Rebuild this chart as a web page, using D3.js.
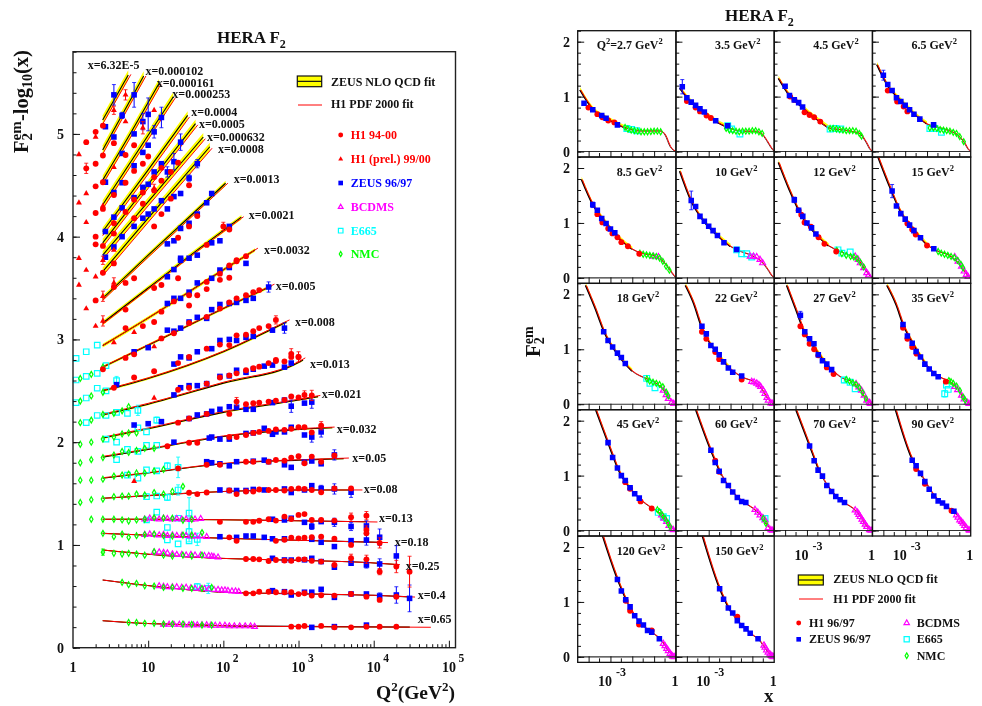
<!DOCTYPE html>
<html><head><meta charset="utf-8">
<script src="https://cdn.jsdelivr.net/npm/d3@7"></script>
<style>
html,body{margin:0;padding:0;background:#fff}
svg{display:block;filter:blur(.35px)}
text{font-family:"Liberation Serif","Times New Roman",serif;font-weight:bold;fill:#111}
</style></head><body><svg id="c" width="982" height="706"></svg>
<script>
// ---------- LEFT PLOT DATA: F2 - log10(x) versus Q2 ----------
const xBinLabels=["x=6.32E-5","x=0.000102","x=0.000161","x=0.000253","x=0.0004","x=0.0005","x=0.000632","x=0.0008","x=0.0013","x=0.0021","x=0.0032","x=0.005","x=0.008","x=0.013","x=0.021","x=0.032","x=0.05","x=0.08","x=0.13","x=0.18","x=0.25","x=0.4","x=0.65"];
// ZEUS fit nodes, one row per bin: [log10 Q2, plotted value]
const zeusFitLeft=[
[[.395,5.136],[.735,5.574]],
[[.395,4.844],[.94,5.564]],
[[.395,4.55],[.8,5.05],[1.144,5.49]],
[[.395,4.31],[.9,4.875],[1.334,5.36]],
[[.395,4.05],[1,4.65],[1.525,5.18]],
[[.395,3.94],[1,4.51],[1.63,5.10]],
[[.395,3.82],[1,4.34],[1.733,4.97]],
[[.395,3.66],[1,4.18],[1.82,4.875]],
[[.395,3.40],[1,3.82],[1.5,4.16],[2.03,4.52]],
[[.395,3.16],[1,3.5],[1.6,3.84],[2.24,4.19]],
[[.395,2.94],[1.2,3.3],[1.8,3.585],[2.42,3.87]],
[[.395,2.73],[1.157,3.0],[2,3.3],[2.64,3.52]],
[[.395,2.50],[1,2.62],[2,2.88],[2.84,3.17]],
[[.395,2.265],[1,2.37],[2,2.575],[3,2.775],[3.06,2.80]],
[[.395,2.04],[1,2.13],[2,2.29],[3,2.41],[3.26,2.443]],
[[.395,1.855],[1,1.93],[2,2.055],[3,2.125],[3.45,2.14]],
[[.395,1.65],[1,1.70],[2,1.79],[3,1.825],[3.6,1.84]],
[[.395,1.454],[1,1.48],[2,1.52],[3,1.535],[3.7,1.535]],
[[.395,1.25],[1,1.25],[2,1.245],[3,1.235],[3.9,1.225]],
[[.395,1.113],[1,1.095],[1.8,1.07],[3,1.045],[4.08,1.025]],
[[.395,.951],[1,.91],[1.5,.885],[2.3,.862],[3,.85],[4,.825],[4.3,.81]],
[[.395,.659],[1.05,.60],[2,.54],[3,.525],[4,.51],[4.48,.495]],
[[.395,.263],[1,.235],[1.5,.225],[2.3,.21],[4.48,.2]]];
// H1 fit: value difference from the ZEUS nodes, and where it ends
const h1FitGap=[-.04,-.04,-.04,-.04,-.04,-.04,-.04,-.04,-.02,-.012,0,.004,.006,.008,.008,.006,.004,0,0,0,0,0,0];
const h1FitEndLgQ=[.77,.97,1.17,1.36,1.55,1.66,1.76,1.85,2.06,2.27,2.46,2.68,2.88,3.09,3.29,3.48,3.67,3.85,4.05,4.19,4.35,4.55,4.76];
const zeusBandHalf=[.045,.045,.045,.045,.04,.04,.04,.04,.024,.022,.018,.014,.012,.01,.008,.006,.005,.004,.004,.004,.004,.003,.003];

const h1Left=[[2,5.02],[1.5,4.92],[2,4.71],[1.5,4.665,.05],[2,4.49],[2,4.23],[2,4.0],[2,3.925],[2,3.38],
[2.5,5.08],[2.5,4.79],[3.5,4.91],[5,4.795],[6.5,4.89],[2.5,4.53],[3.5,4.405],[5,4.525],[6.5,4.64],[8.5,4.71],[10,4.78],[12,4.58],[15,4.67],[25,4.72],
[2.5,4.27],[3.5,4.13],[5,4.24],[6.5,4.36],[8.5,4.43],[12,4.45],[15,4.545],[20,4.63],[35,4.5],
[2.5,3.91],[3.5,4.03],[6.5,4.18],[8.5,4.32],[12,4.10],[15,4.22],[20,4.37],[25,3.99],[35,4.10],[45,4.20],[60,3.92],[100,4.10,.04],[120,4.07],[150,3.77],[200,3.81],
[2.5,3.65],[3.5,3.74],[3.5,3.51],[5,3.55],[6.5,3.595],[12,3.5],[15,3.53],[25,3.595],[35,3.43],[60,3.56],[90,3.64],[120,3.72],[150,3.76],
[5,3.29],[8.5,3.13],[12,3.17],[5,3.11],[15,3.27],[22,3.37],[35,3.33],[45,3.43],[60,3.49],[90,3.58],[120,3.60],
[2.5,2.71],[5,2.82],[6.5,2.855],[15,3.01],[22,3.06],[35,3.16],[60,3.22],[90,3.30],[120,3.36],[150,3.40],[200,3.43],[250,3.46],[300,3.48],
[6.5,2.63],[12,2.69],[25,2.77],[35,2.83],[60,2.91],[90,2.95],[120,2.945],[150,3.04],[200,3.045],[250,3.08],[300,3.11],[400,3.13],[500,3.19,.04],
[3.5,2.53],[25,2.51],[35,2.53],[60,2.57],[90,2.63],[120,2.65],[150,2.67],[200,2.70],[250,2.72],[300,2.735],[400,2.77],[500,2.80],[800,2.83],[1000,2.83],[500,2.79],[650,2.785],[800,2.86,.05],[1000,2.83,.05],
[25,2.19],[35,2.23],[60,2.275],[120,2.275],[150,2.395,.04],[200,2.37],[250,2.38],[300,2.385],[400,2.395],[500,2.405],[650,2.41],[800,2.445],[1000,2.435],[1200,2.46,.04],[1500,2.455,.05],
[18,1.96],[35,1.995],[45,1.995],[120,2.05],[150,2.05],[200,2.07],[250,2.09],[300,2.10],[400,2.11],[500,2.125],[650,2.12],[800,2.13],[1000,2.145],[1200,2.145],[1500,2.095],[2000,2.16,.04],
[25,1.745],[60,1.78],[90,1.78],[200,1.81],[250,1.81],[400,1.81],[500,1.827],[650,1.82],[800,1.85],[1000,1.863],[1200,1.795],[1500,1.86],[2000,1.81],[3000,1.87],
[35,1.508],[45,1.495],[60,1.51],[120,1.53],[150,1.495],[200,1.52],[250,1.52],[300,1.54],[400,1.535],[500,1.535],[650,1.53],[800,1.545],[1000,1.55],[1200,1.545],[1500,1.535],[2000,1.513],[3000,1.55],[5000,1.55],
[90,1.225],[200,1.225],[250,1.225],[300,1.235],[400,1.25],[500,1.237],[650,1.276],[800,1.253],[1000,1.292],[1200,1.30],[1500,1.243],[2000,1.243],[3000,1.237],[5000,1.27,.04],[8000,1.285,.04],
[120,1.074],[150,1.04],[500,1.04],[650,1.05],[800,1.07],[1000,1.064],[1200,1.07],[1500,1.075],[2000,1.08],[3000,1.06],[5000,1.0],[8000,1.146,.04],[8000,1.113],[12000,1.02,.05],
[200,.863],[250,.863],[300,.86],[400,.844],[500,.853],[650,.848],[800,.845],[1000,.86],[1200,.86],[1500,.845],[2000,.838],[3000,.805],[5000,.87,.04],[8000,.86,.04],[12000,.74,.03],[20000,.79,.06],[30000,.74,.15],
[200,.529],[250,.529],[300,.545],[400,.545],[500,.54],[650,.54],[800,.54],[1000,.522],[1200,.53],[1500,.507],[2000,.51],[3000,.507],[5000,.523],[8000,.497],[12000,.465],[20000,.497],
[800,.205],[1000,.205],[1200,.212],[2000,.212],[3000,.198],[5000,.198],[8000,.205],[12000,.205],[20000,.205]];
const h1PrelLeft=[[1.2,4.80],[1.2,4.33],[1.2,3.79],[1.2,3.53],[1.5,4.42],[1.5,4.14],[1.5,3.675],[1.5,3.30],[2,4.97],[2,3.61],[2,3.13],
[2.5,4.30],[3.5,4.675],[3.5,5.23,.04],[5,5.12],[5,5.38,.05],[8.5,5.06,.06],[12,5.23],[12,4.47,.04],[3.5,3.87],[2.5,3.77,.04],[2.5,3.42,.05],[3.5,3.55,.05],[2.5,3.18,.05],[3.5,2.97],[6.5,3.07],[12,2.93],[12,2.43],[6.5,1.62]];
const zeusLeft=[[2.7,5.07],[3.5,5.38,.1],[4.5,5.18,.03],[6.5,5.38,.12],[3.5,4.97],[4.5,4.81],[6.5,5.0],[8.5,5.12,.08],[10,5.19,.16],[12,5.02,.06],[15,5.16,.1],
[2.7,4.53],[3.5,4.43],[4.5,4.525],[6.5,4.69],[8.5,4.82],[10,4.89],[12,4.63],[15,4.71],[18,4.63,.05],[22,4.73,.08],[27,4.92,.08],[35,4.57,.03],[45,4.71,.04],
[2.7,4.05],[3.5,4.19],[4.5,4.28],[6.5,4.38],[8.5,4.48],[10,4.51],[12,4.27],[15,4.35],[18,4.27],[22,4.39],[27,4.42],[35,4.13],[45,4.22],[60,4.33],[70,4.42],
[2.7,3.80],[3.5,3.90],[4.5,4.0],[6.5,4.10],[8.5,4.18],[10,4.22],[18,3.93],[22,3.96],[27,4.08],[27,3.79],[35,3.79],[45,3.82],[70,3.94],[90,3.96],[120,4.10],
[18,3.61],[22,3.68],[27,3.77],[35,3.46],[45,3.55],[70,3.595],[90,3.675],[120,3.70],[200,3.74],
[18,3.35],[22,3.40],[27,3.40],[70,3.29],[90,3.34],[120,3.35],[150,3.36],[200,3.38],[250,3.40],[400,3.51,.05],[35,3.17],[45,3.215],[60,3.205],
[6.5,2.88],[10,2.92],[18,3.09],[22,3.08],[27,3.11],[22,2.76],[27,2.83],[35,2.82],[45,2.88],[70,2.91],[90,2.99],[120,3.0],[150,2.99],[200,3.02],[250,3.03],[450,3.09],[650,3.11,.05],
[3.8,2.56],[22,2.46],[27,2.53],[35,2.55],[45,2.55],[60,2.57],[90,2.64],[120,2.645],[150,2.70],[200,2.68],[250,2.71],[350,2.74],[450,2.75],[650,2.73],[800,2.77],
[6.5,2.167],[10,2.18],[15,2.2],[35,2.23],[45,2.265],[60,2.275],[70,2.30],[90,2.32],[120,2.345],[150,2.34],[200,2.32],[250,2.32],[450,2.385],[650,2.41],[800,2.35,.06],[1200,2.38],[1500,2.39,.06],
[22,2.0],[65,2.04],[70,2.05],[90,2.03],[120,2.03],[200,2.085],[250,2.09],[350,2.135],[500,2.10],[450,2.077],[650,2.10],[800,2.145],[1200,2.07],[1500,2.05,.05],[2000,2.10,.05],
[60,1.81],[70,1.80],[90,1.79],[120,1.77],[150,1.81],[250,1.815],[350,1.825],[400,1.81],[650,1.78],[800,1.755],[1200,1.805],[1500,1.817],[2000,1.79],[3000,1.876,.05],
[90,1.535],[120,1.53],[150,1.53],[200,1.53],[250,1.54],[350,1.535],[650,1.545],[800,1.51],[1200,1.535],[1500,1.577],[2000,1.55,.03],[3000,1.545,.05],[5000,1.513,.05],
[450,1.25],[650,1.243],[800,1.26],[1200,1.22],[1500,1.18,.03],[2000,1.227],[3000,1.22,.04],[5000,1.18,.04],[8000,1.185,.05],
[90,1.08],[150,1.074],[200,1.087],[250,1.087],[350,1.074],[450,1.06],[650,1.06],[1500,1.055],[2000,1.026],[3000,.984],[5000,1.042],[8000,1.048,.05],[12000,1.075,.08],
[450,.87],[650,.854],[800,.853],[1200,.855],[1500,.87],[2000,.838],[3000,.783],[5000,.822],[8000,.805,.03],[12000,.815,.05],[20000,.893,.1],
[450,.555],[650,.545],[800,.513],[1200,.54],[1500,.54],[2000,.568],[3000,.49],[5000,.523],[8000,.523],[12000,.503,.03],[20000,.513,.08],[30000,.48,.13],
[1500,.198],[3000,.205],[8000,.22]];
const e665Left=[[1.1,2.816],[1.5,2.88],[2.1,2.945],[1.1,2.605],[1.5,2.64],[2.1,2.67],[1.1,2.385],[1.5,2.43],[2.1,2.525],[2.75,2.50],[3.8,2.6,.04],[2.75,2.745],[1.5,2.19],[2.1,2.26],[2.75,2.26],[3.8,2.29],[5.3,2.28],[7.3,2.31,.05],[7.3,2.14],[9.5,2.10],[13,2.215,.03],[2.75,2.03],[3.8,2.0],[9.5,1.97],[13,1.97],[3.8,1.83],[5.3,1.93],[7.3,1.91],[7.3,1.65],[5.3,1.68],[9.5,1.73],[13,1.72],[18,1.77,.03],[25,1.755,.1],
[9.5,1.47],[13,1.476],[18,1.463,.03],[25,1.535,.05],[13,1.32],[9.5,1.243],[25,1.26],[35,1.31,.15],[18,1.17],[18,1.05],[25,1.01],[35,1.04],[35,1.13,.1],[45,1.054,.06],[45,.594,.03],[63,.577,.05]];
const nmcLeft=[[1.25,2.62],[1.75,2.66],[1.25,2.40],[1.75,2.45],[1.25,2.19],[1.75,2.215],[2.5,2.485],[2.5,2.73],[1.25,1.98],[1.75,2.0],[2.5,2.27],[3.5,2.28],[4.5,2.305],[5.5,2.345],[1.25,1.80],[1.75,1.83],[2.5,2.03],[3.5,2.05],[4.5,2.08],[5.5,2.09],[7,2.09],[2.5,1.85],[3.5,1.875],[4.5,1.91],[5.5,1.9],[7,1.92],[9,1.94],[12,1.94],[1.25,1.63],[1.75,1.63],[2.5,1.64],[3.5,1.67],[4.5,1.68],[5.5,1.69],[7,1.70],[9,1.70],[12,1.72],[16,1.735],
[1.25,1.414],[1.75,1.44],[2.5,1.447],[3.5,1.47],[4.5,1.476],[5.5,1.476],[7,1.495],[9,1.486],[12,1.51],[16,1.495],[21,1.52],[29,1.57],
[1.75,1.25],[2.5,1.25],[3.5,1.25],[4.5,1.243],[5.5,1.233],[7,1.243],[9,1.25],[12,1.265],[16,1.26],[21,1.26],[29,1.24],[38,1.25],
[2.5,1.113],[3.5,1.08],[4.5,1.106],[5.5,1.074],[7,1.09],[9,1.10],[12,1.106],[16,1.09],[21,1.087],[29,1.096],[38,1.096],[52,1.12],
[2.5,.93,.03],[3.5,.918],[4.5,.911],[5.5,.918],[7,.911],[9,.90],[12,.934],[16,.90],[21,.892],[29,.90],[38,.892],[52,.90],
[4.5,.636],[5.5,.613],[7,.626],[9,.603],[12,.60],[16,.587],[21,.587],[29,.577],[38,.577],[52,.577],[70,.587],
[5.5,.246],[7,.246],[9,.237],[12,.237],[16,.23],[21,.23],[29,.23],[38,.227],[52,.22],[70,.22]];
const bcdmsLeft=[[9,1.25],[10.5,1.26],[12,1.255],[14,1.25],[16,1.26],[18,1.255],[21,1.25],[24,1.255],[28,1.25],[32,1.25],[37,1.245],[42,1.25],[50,1.255],
[9,1.10],[10.5,1.105],[12,1.10],[14,1.095],[16,1.10],[18,1.09],[21,1.095],[24,1.09],[28,1.09],[32,1.09],[37,1.085],[42,1.085],[50,1.085],[60,1.08],
[12,.93],[14,.93],[16,.925],[18,.92],[21,.91],[24,.905],[28,.905],[32,.90],[37,.905],[42,.90],[50,.90],[56,.895],[64,.895],[70,.89],[75,.885],[85,.88],
[14,.60],[16,.595],[18,.59],[21,.59],[24,.59],[28,.585],[32,.585],[37,.58],[42,.575],[50,.575],[56,.575],[64,.57],[75,.565],[85,.565],[95,.56],[105,.56],[115,.555],[130,.55],[145,.55],[160,.545],
[16,.225],[19,.225],[22,.225],[26,.225],[30,.22],[35,.22],[40,.22],[45,.22],[52,.22],[60,.22],[68,.215],[78,.215],[90,.215],[105,.215],[120,.21],[140,.21],[165,.21],[195,.21],[230,.21],[260,.205]];

// ---------- RIGHT PANELS DATA: F2 versus x, rows are [log10 x, F2, error] ----------
const panelQ2=["2.7","3.5","4.5","6.5","8.5","10","12","15","18","22","27","35","45","60","70","90","120","150"];
const panelFit=[
[[-4.39,1.12],[-3.78,.76],[-3.17,.6],[-2.56,.47],[-2.25,.42],[-1.65,.375],[-.73,.375],[-.5,.30],[-.27,.09],[0,0]],
[[-4.32,1.15],[-3.8,.90],[-3.2,.70],[-2.6,.53],[-2,.42],[-1.5,.37],[-.9,.37],[-.6,.33],[-.35,.2],[-.15,.07],[0,0]],
[[-4.3,1.33],[-3.8,1.02],[-3.2,.80],[-2.6,.60],[-2,.43],[-1.5,.40],[-1,.37],[-.6,.33],[-.3,.17],[-.1,.03],[0,0]],
[[-4.29,1.58],[-3.8,1.2],[-3.2,.93],[-2.6,.69],[-2,.50],[-1.5,.44],[-1,.38],[-.6,.30],[-.3,.16],[-.1,.03],[0,0]],
[[-4.32,1.79],[-3.8,1.33],[-3.2,1.0],[-2.6,.72],[-2,.52],[-1.6,.45],[-1,.40],[-.6,.30],[-.3,.15],[-.1,.04],[0,0]],
[[-4.32,1.94],[-3.8,1.40],[-3.2,1.02],[-2.6,.77],[-2,.57],[-1.6,.49],[-1,.40],[-.6,.30],[-.3,.15],[-.1,.03],[0,0]],
[[-4.3,2.1],[-3.8,1.6],[-3.2,1.1],[-2.6,.8],[-2,.58],[-1.6,.50],[-1,.40],[-.6,.29],[-.3,.13],[-.1,.03],[0,0]],
[[-4.24,2.2],[-3.8,1.75],[-3.2,1.2],[-2.6,.87],[-2,.6],[-1.6,.5],[-1,.41],[-.6,.28],[-.3,.12],[-.1,.03],[0,0]],
[[-4.13,2.16],[-3.7,1.75],[-3.3,1.33],[-2.6,.87],[-2,.6],[-1.4,.47],[-1,.40],[-.6,.27],[-.3,.11],[-.1,.02],[0,0]],
[[-4.06,2.16],[-3.7,1.85],[-3.3,1.38],[-2.6,.92],[-2,.64],[-1.4,.48],[-1,.42],[-.6,.29],[-.3,.1],[-.1,.02],[0,0]],
[[-3.92,2.16],[-3.5,1.72],[-3.1,1.3],[-2.6,1.0],[-2,.68],[-1.4,.48],[-1,.42],[-.6,.28],[-.3,.09],[-.1,.02],[0,0]],
[[-3.83,2.16],[-3.4,1.8],[-3.1,1.46],[-2.6,1.08],[-2,.7],[-1.4,.49],[-1,.42],[-.6,.28],[-.3,.09],[-.1,.02],[0,0]],
[[-3.66,2.19],[-3.11,1.6],[-2.6,1.08],[-2,.72],[-1.5,.52],[-1,.38],[-.6,.26],[-.3,.08],[-.1,.02],[0,0]],
[[-3.58,2.19],[-2.9,1.46],[-2.4,1.0],[-1.9,.7],[-1.3,.49],[-.9,.38],[-.6,.26],[-.3,.08],[-.1,.02],[0,0]],
[[-3.49,2.19],[-2.88,1.55],[-2.4,1.05],[-1.9,.73],[-1.3,.51],[-.8,.37],[-.6,.28],[-.3,.09],[-.1,.02],[0,0]],
[[-3.43,2.19],[-2.68,1.3],[-2.2,.97],[-1.7,.65],[-1.2,.46],[-.8,.35],[-.55,.25],[-.3,.09],[-.1,.02],[0,0]],
[[-3.35,2.2],[-2.68,1.42],[-2.2,.97],[-1.7,.64],[-1.2,.47],[-.75,.33],[-.55,.23],[-.3,.08],[-.1,.02],[0,0]],
[[-3.28,2.2],[-2.5,1.25],[-2,.83],[-1.5,.58],[-1,.40],[-.7,.31],[-.5,.2],[-.3,.09],[-.1,.02],[0,0]]];
const panelZeus=[
[[-4.21,.88],[-3.81,.76],[-3.40,.655],[-3.20,.605],[-2.68,.485]],
[[-4.21,1.18,.13],[-4.0,.98],[-3.8,.90],[-3.6,.84],[-3.4,.78],[-3.2,.72],[-2.68,.56],[-2.13,.47]],
[[-4.0,1.19],[-3.8,1.02],[-3.58,.94],[-3.38,.89],[-3.2,.81]],
[[-4,1.39,.09],[-3.8,1.22],[-3.6,1.11],[-3.4,.98],[-3.2,.91],[-3,.84],[-2.8,.76],[-2.6,.68],[-2.33,.59],[-1.7,.485]],
[[-3.81,1.33,.05],[-3.6,1.23],[-3.4,1.08],[-3.2,.99],[-3,.89],[-2.8,.82]],
[[-3.8,1.41,.17],[-3.6,1.30],[-3.4,1.12],[-3.2,1.03],[-3,.94],[-2.8,.86],[-2.6,.77],[-2.3,.64],[-1.72,.515]],
[[-3.58,1.42,.05],[-3.38,1.23],[-3.19,1.12],[-3,1],[-2.79,.91],[-2.59,.8]],
[[-3.6,1.58,.12],[-3.4,1.31],[-3.2,1.17],[-3,1.07],[-2.8,.96],[-2.6,.86],[-2.3,.73],[-1.69,.53]],
[[-3.31,1.32],[-3.11,1.16],[-2.9,1.04],[-2.68,.93],[-2.5,.85],[-2.32,.74]],
[[-3.31,1.42],[-3.11,1.28],[-2.9,1.07],[-2.7,1.0],[-2.52,.9],[-2.32,.77],[-2.1,.66],[-1.9,.58],[-1.49,.515]],
[[-3.3,1.62,.07],[-3.1,1.32],[-2.88,1.19],[-2.68,1.1],[-2.48,.9],[-2.29,.79],[-2.09,.73],[-1.87,.63]],
[[-3.1,1.45],[-2.9,1.24],[-2.68,1.11],[-2.5,.96],[-2.3,.86],[-2.1,.73],[-1.9,.64],[-1.69,.56],[-1.49,.5]],
[[-3.11,1.6],[-2.9,1.33],[-2.68,1.14],[-2.5,1],[-2.32,.91],[-2.1,.78],[-1.89,.67],[-1.68,.59]],
[[-2.9,1.46],[-2.7,1.24],[-2.52,1.08],[-2.32,.91],[-2.1,.82],[-1.9,.7],[-1.69,.6],[-1.49,.53],[-1.3,.51]],
[[-2.88,1.54],[-2.67,1.27],[-2.49,1.1],[-2.29,.99],[-2.09,.82],[-1.87,.71],[-1.68,.62],[-1.48,.56],[-1.28,.51]],
[[-2.68,1.28],[-2.5,1.18],[-2.3,1.04],[-2.1,.89],[-1.9,.75],[-1.69,.63],[-1.49,.54],[-1.29,.5],[-1.11,.44],[-.77,.35]],
[[-2.68,1.41],[-2.5,1.2],[-2.3,1.04],[-2.1,.91],[-1.89,.75],[-1.69,.65],[-1.49,.58],[-1.3,.48],[-1.11,.45],[-.76,.33]],
[[-2.5,1.24],[-2.32,1.05],[-2.1,.89],[-1.9,.8],[-1.69,.66],[-1.49,.57],[-1.29,.51],[-1.1,.43],[-.74,.33]]];
const panelH1=[
[[-4.01,.80],[-3.60,.68],[-3.37,.625],[-3.10,.565],[-2.82,.53]],
[[-4.0,.92],[-3.6,.80],[-3.4,.73],[-3.1,.655],[-2.9,.61]],
[[-3.77,1.0],[-3.57,.94],[-3.11,.715],[-2.88,.665],[-2.67,.625],[-2.39,.545]],
[[-3.8,1.11],[-3.37,.91],[-3.07,.82],[-2.9,.73]],
[[-3.6,1.16],[-3.37,1.01],[-3.1,.90],[-2.91,.81],[-2.68,.74],[-2.5,.65],[-2.2,.575],[-1.68,.44]],
[],
[[-3.38,1.23],[-3.26,1.15],[-3.11,1.01],[-2.82,.93],[-2.47,.74],[-2.2,.62],[-1.66,.48]],
[[-2.9,.99],[-2.68,.88],[-2.52,.79],[-2,.59]],
[],
[[-3.31,1.32],[-3.11,1.19],[-2.7,.95],[-2.52,.82],[-1.49,.45]],
[[-3.3,1.42],[-3.1,1.27],[-2.88,1.1],[-2.67,1.0],[-2.48,.89],[-2.09,.67],[-1.78,.55]],
[[-3.1,1.39],[-2.9,1.19],[-2.68,1.04],[-2.48,.92],[-1.14,.41]],
[[-2.32,.88],[-2.1,.76],[-1.62,.53],[-1.11,.40]],
[[-2.7,1.27],[-2.52,1.07]],
[],
[[-2.5,1.12],[-2.1,.85],[-.88,.36]],
[[-2.3,1.02],[-2.1,.84],[-1.69,.59],[-1.11,.48]],
[[-1.69,.73]]];
const panelE665=[
[[-2.25,.42],[-2.03,.40],[-1.8,.38]],
[[-2.13,.47],[-1.95,.41],[-1.57,.32]],
[[-1.94,.41],[-1.7,.42],[-1.45,.41]],
[[-1.87,.42],[-1.64,.42],[-1.34,.35]],
[],
[[-1.72,.51],[-1.49,.44],[-1.26,.44],[-1.03,.38]],
[[-1.58,.51],[-1.4,.45],[-1.02,.47]],
[],
[[-1.34,.47],[-1.19,.38],[-.96,.30]],
[],
[[-1.29,.44,.05],[-1.02,.40],[-.79,.28]],
[[-1.19,.19,.06],[-1.03,.27],[-1.11,.35]],
[[-.81,.33],[-.58,.25],[-.43,.22]],
[[-.42,.22]],
[],[],[],[]];
const panelNmc=[
[[-2.33,.44],[-2.2,.41],[-2.05,.39],[-1.9,.38],[-1.75,.37],[-1.6,.36],[-1.45,.36],[-1.3,.36],[-1.15,.365],[-1,.37],[-.85,.37],[-.7,.36]],
[[-2.2,.42],[-2.05,.39],[-1.9,.38],[-1.75,.37],[-1.6,.36],[-1.45,.37],[-1.3,.37],[-1.15,.37],[-1,.38],[-.85,.38],[-.7,.36],[-.55,.33]],
[[-1.94,.42],[-1.8,.42],[-1.65,.41],[-1.5,.40],[-1.35,.39],[-1.2,.38],[-1.05,.38],[-.9,.38],[-.75,.37],[-.6,.33],[-.5,.28]],
[[-1.87,.43],[-1.7,.43],[-1.55,.42],[-1.4,.40],[-1.25,.39],[-1.1,.38],[-.95,.37],[-.8,.35],[-.65,.33],[-.5,.27],[-.32,.18]],
[[-1.65,.45],[-1.5,.43],[-1.35,.42],[-1.2,.41],[-1.05,.40],[-.9,.39],[-.75,.36],[-.6,.30],[-.45,.21],[-.3,.14]],
[],
[[-1.63,.5],[-1.4,.44],[-1.2,.41],[-1,.39],[-.85,.38],[-.7,.35],[-.55,.28],[-.4,.2]],
[[-1.49,.48],[-1.35,.45],[-1.2,.43],[-1.05,.41],[-.9,.39],[-.75,.37],[-.6,.32],[-.45,.25],[-.35,.18]],
[[-1.33,.46],[-1.2,.42],[-1.05,.40],[-.9,.38],[-.75,.36],[-.6,.32],[-.45,.22],[-.35,.15]],
[],
[[-1.2,.45],[-1.05,.42],[-.9,.39],[-.75,.36],[-.6,.3],[-.45,.21],[-.3,.1]],
[[-1,.43],[-.9,.41],[-.8,.38],[-.65,.33],[-.5,.25],[-.35,.13],[-.25,.07]],
[[-.85,.38],[-.75,.34],[-.62,.28],[-.5,.22],[-.37,.14],[-.27,.07]],
[[-.5,.22],[-.38,.13]],
[],[],[],[]];
const panelBcdms=[[],[],[],[],
[[-1.03,.39],[-.8,.38]],
[[-1.1,.39],[-.95,.39],[-.8,.38],[-.65,.33],[-.53,.27]],
[[-.79,.39],[-.65,.33],[-.56,.27],[-.4,.18],[-.26,.09],[-.18,.05]],
[[-.73,.38],[-.58,.3],[-.42,.21],[-.3,.12],[-.2,.06],[-.12,.02]],
[[-.58,.25],[-.45,.17],[-.35,.10],[-.2,.03],[-.1,.01]],
[[-1.03,.41],[-.92,.4],[-.8,.38],[-.7,.35],[-.62,.32],[-.5,.25],[-.42,.19],[-.33,.12],[-.27,.07],[-.15,.02],[-.08,.01]],
[[-.75,.37],[-.62,.31],[-.5,.25],[-.38,.16],[-.26,.07],[-.15,.03],[-.1,.01]],
[[-.73,.32],[-.6,.26],[-.42,.16],[-.3,.09],[-.16,.03],[-.08,.01]],
[[-.66,.28],[-.55,.22],[-.43,.16],[-.32,.09],[-.2,.03],[-.12,.01]],
[[-.88,.38],[-.75,.33],[-.65,.28],[-.52,.23],[-.42,.19],[-.27,.05],[-.15,.01],[-.08,.0]],
[[-.79,.37],[-.68,.33],[-.62,.29],[-.56,.25],[-.48,.2],[-.41,.16],[-.33,.11],[-.26,.07],[-.13,.01],[-.06,.0]],
[[-.65,.28],[-.58,.24],[-.5,.19],[-.42,.16],[-.35,.13],[-.28,.09],[-.2,.05],[-.08,.01],[-.04,.0]],
[[-.58,.24],[-.5,.2],[-.42,.15],[-.35,.11],[-.27,.06],[-.2,.03],[-.15,.01],[-.08,.0]],
[[-.47,.21],[-.42,.17],[-.35,.12],[-.28,.08],[-.2,.05],[-.14,.02],[-.09,.01],[-.04,.0]]];
// tick and legend wording
const leftYTicks=[0,1,2,3,4,5];
const legendLeftLabels=["H1 94-00","H1 (prel.) 99/00","ZEUS 96/97","BCDMS","E665","NMC"];
const legendRightA=["H1 96/97","ZEUS 96/97"];
const legendRightB=["BCDMS","E665","NMC"];

// ---------- LAYOUT AND STYLE ----------
const binLabelPos=[[87.7,69],[145.5,74.5],[156.7,86.7],[172.3,98.3],[191.3,116],[199,128.3],[207,140.7],[218,152.7],[233.7,182.7],[248.7,219],[264,254],[275.7,290],[295,326],[310,367.7],[321.7,397.7],[336.7,432.7],[352.3,462.3],[363.7,492.7],[379,522.3],[394.7,546],[405.7,569.7],[417.7,599.3],[417.7,623.3]];
const RED="#ff0000",BLUE="#0000ff",MAG="#ff00ff",CY="#00ffff",GR="#00ff00",YEL="#ffff00";
const svg=d3.select("#c");
svg.append("rect").attr("width",982).attr("height",706).attr("fill","#fff");
const sym=(t,s)=>d3.symbol().type(t).size(s)();
function marker(g,kind,cx,cy,k=1){
  const specs={h1:[d3.symbolCircle,27,RED,null],prel:[d3.symbolTriangle,15,RED,null],zeus:[d3.symbolSquare,31,BLUE,null],
    bcdms:[d3.symbolTriangle,14,null,MAG],e665:[d3.symbolSquare,30,null,CY],nmc:[d3.symbolDiamond,10,null,GR]}[kind];
  g.append("path").attr("d",sym(specs[0],specs[1]*k)).attr("transform",`translate(${cx},${cy})`)
   .attr("fill",specs[2]||"none").attr("stroke",specs[3]||"none").attr("stroke-width",specs[3]?1.2:0);
}
function errBar(g,x,y0,y1,color){
  g.append("line").attr("x1",x).attr("x2",x).attr("y1",y0).attr("y2",y1).attr("stroke",color).attr("stroke-width",1);
  [y0,y1].forEach(v=>g.append("line").attr("x1",x-2).attr("x2",x+2).attr("y1",v).attr("y2",v).attr("stroke",color).attr("stroke-width",.8));
}
function plotRows(g,rows,kind,color,xf,yf,k){
  rows.forEach(r=>{
    if(r[2]) errBar(g,xf(r[0]),yf(r[1]-r[2]),yf(r[1]+r[2]),color);
    marker(g,kind,xf(r[0]),yf(r[1]),k);
  });
}
function rich(parent,x,y,parts,size,opt={}){
  const t=parent.append("text").attr("x",x).attr("y",y).attr("font-size",size);
  if(opt.rotate) t.attr("transform",`rotate(-90 ${x} ${y})`);
  if(opt.fill) t.style("fill",opt.fill);
  if(opt.anchor) t.attr("text-anchor",opt.anchor);
  let cur=0;
  parts.forEach(p=>{
    const s=t.append("tspan").text(p.t).attr("font-size",p.s||size);
    const target=p.dy||0;
    s.attr("dy",target-cur); cur=target;
    if(p.dx) s.attr("dx",p.dx);
  });
  return t;
}
function fitBox(g,x0,x1,yt,yb){
  g.append("rect").attr("x",x0).attr("y",yt).attr("width",x1-x0).attr("height",yb-yt).attr("fill",YEL).attr("stroke","#111").attr("stroke-width",1.2);
  g.append("line").attr("x1",x0).attr("x2",x1).attr("y1",(yt+yb)/2).attr("y2",(yt+yb)/2).attr("stroke","#111").attr("stroke-width",1.2);
}

// ---------- LEFT PLOT ----------
const L=svg.append("g");
const lx=d3.scaleLog().domain([1,Math.pow(10,5.088)]).range([73,455.5]);
const ly=d3.scaleLinear().domain([0,5.8]).range([647.7,51.7]);
const lineL=d3.line().x(d=>lx(Math.pow(10,d[0]))).y(d=>ly(d[1])).curve(d3.curveMonotoneX);
zeusFitLeft.forEach((nodes,i)=>{
  const hw=zeusBandHalf[i];
  const area=d3.area().x(d=>lx(Math.pow(10,d[0]))).y0(d=>ly(d[1]-hw)).y1(d=>ly(d[1]+hw)).curve(d3.curveMonotoneX);
  L.append("path").attr("d",area(nodes)).attr("fill",YEL).attr("stroke","none");
  L.append("path").attr("d",lineL(nodes)).attr("fill","none").attr("stroke","#000").attr("stroke-width",1.1);
});
zeusFitLeft.forEach((nodes,i)=>{
  const last=nodes[nodes.length-1],prev=nodes[nodes.length-2];
  const slope=(last[1]-prev[1])/(last[0]-prev[0]);
  const ext=nodes.concat([[h1FitEndLgQ[i],last[1]+slope*(h1FitEndLgQ[i]-last[0])]]).filter(d=>d[0]<=h1FitEndLgQ[i]);
  const shifted=ext.map(d=>[d[0],d[1]+h1FitGap[i]]);
  L.append("path").attr("d",lineL(shifted)).attr("fill","none").attr("stroke",RED).attr("stroke-width",1);
});
const lxq=q=>lx(q),lyy=v=>ly(v);
plotRows(L,e665Left,"e665",CY,lxq,lyy);
plotRows(L,bcdmsLeft,"bcdms",MAG,lxq,lyy);
plotRows(L,nmcLeft,"nmc",GR,lxq,lyy);
plotRows(L,zeusLeft,"zeus",BLUE,lxq,lyy);
plotRows(L,h1PrelLeft,"prel",RED,lxq,lyy);
plotRows(L,h1Left,"h1",RED,lxq,lyy);

// frame and ticks
L.append("rect").attr("x",73).attr("y",51.7).attr("width",382.5).attr("height",596).attr("fill","none").attr("stroke","#222").attr("stroke-width",1.4);
const clean=a=>a.call(s=>s.select(".domain").remove()).call(s=>s.selectAll("text").remove()).call(s=>s.selectAll("line").attr("stroke","#111").attr("stroke-width",1));
L.append("g").attr("transform","translate(73,0)").call(d3.axisRight(ly).tickValues(d3.range(0,5.81,.2)).tickSize(3.5)).call(clean);
L.append("g").attr("transform","translate(73,0)").call(d3.axisRight(ly).tickValues(leftYTicks).tickSize(7)).call(clean);
const minorQ=[];for(let e=0;e<5;e++)for(let m=2;m<10;m++)minorQ.push(m*Math.pow(10,e));
L.append("g").attr("transform","translate(0,647.7)").call(d3.axisTop(lx).tickValues(minorQ).tickSize(3.5)).call(clean);
L.append("g").attr("transform","translate(0,647.7)").call(d3.axisTop(lx).tickValues([10,100,1000,1e4,1e5]).tickSize(7)).call(clean);
leftYTicks.forEach(v=>L.append("text").attr("x",64).attr("y",ly(v)+5).attr("text-anchor","end").attr("font-size",14).text(v));
L.append("text").attr("x",lx(1)).attr("y",671.7).attr("text-anchor","middle").attr("font-size",14).text("1");
L.append("text").attr("x",lx(10)).attr("y",671.7).attr("text-anchor","middle").attr("font-size",14).text("10");
[2,3,4,5].forEach(e=>rich(L,lx(Math.pow(10,e))-7,671.7,[{t:"10"},{t:String(e),s:11.5,dy:-10,dx:2.5}],14));
xBinLabels.forEach((s,i)=>L.append("text").attr("x",binLabelPos[i][0]).attr("y",binLabelPos[i][1]).attr("font-size",12).text(s));
rich(L,217,43,[{t:"HERA F"},{t:"2",s:12,dy:5}],17);
rich(L,28,153,[{t:"F"},{t:"em",s:15,dy:-7},{t:"2",s:15,dy:4,dx:-19.2},{t:"-log",dx:12},{t:"10",s:14,dy:4},{t:"(x)"}],20.5,{rotate:true});
rich(L,376,699,[{t:"Q"},{t:"2",s:13,dy:-8},{t:"(GeV"},{t:"2",s:13,dy:-8},{t:")"}],19.5);
// legend
fitBox(L,297.3,321.7,76,86.7);
L.append("text").attr("x",331).attr("y",85.7).attr("font-size",12).text("ZEUS NLO QCD fit");
L.append("line").attr("x1",298).attr("x2",322).attr("y1",105).attr("y2",105).attr("stroke",RED).attr("stroke-width",1);
L.append("text").attr("x",331).attr("y",108.3).attr("font-size",12).text("H1 PDF 2000 fit");
const lk=["h1","prel","zeus","bcdms","e665","nmc"],lc=[RED,RED,BLUE,MAG,CY,GR],ly2=[135,159,183,207,230.7,254];
legendLeftLabels.forEach((s,i)=>{
  marker(L,lk[i],340.7,ly2[i],.7);
  L.append("text").attr("x",350.7).attr("y",ly2[i]+4).attr("font-size",12).style("fill",lc[i]).text(s);
});

// ---------- RIGHT PANELS ----------
const R=svg.append("g");
const PW=98.25,PH=126.33,PX=577.7,PY=30.7;
const defs=svg.append("defs");
panelQ2.forEach((q,i)=>{
  const col=i%4,row=Math.floor(i/4),x0=PX+col*PW,y0=PY+row*PH;
  const g=R.append("g");
  const px=d3.scaleLog().domain([Math.pow(10,-4.5),1]).range([x0,x0+PW]);
  const py=d3.scaleLinear().domain([-.1,2.2]).range([y0+PH,y0]);
  const fx=lg=>px(Math.pow(10,lg));
  defs.append("clipPath").attr("id","p"+i).append("rect").attr("x",x0).attr("y",y0).attr("width",PW).attr("height",PH);
  const gc=g.append("g").attr("clip-path",`url(#p${i})`);
  const nodes=panelFit[i];
  const line=d3.line().x(d=>fx(d[0])).y(d=>py(d[1])).curve(d3.curveMonotoneX);
  const lowX=nodes.filter(d=>d[0]<=-2);
  const area=d3.area().x(d=>fx(d[0])).y0(d=>py(d[1]-.005)).y1(d=>py(d[1]+.05)).curve(d3.curveMonotoneX);
  gc.append("path").attr("d",area(lowX)).attr("fill",YEL);
  gc.append("path").attr("d",line(lowX)).attr("fill","none").attr("stroke","#000").attr("stroke-width",1.2).attr("transform","translate(-.4,0)");
  gc.append("path").attr("d",line(nodes)).attr("fill","none").attr("stroke","#300").attr("stroke-width",.8);
  gc.append("path").attr("d",line(nodes)).attr("fill","none").attr("stroke",RED).attr("stroke-width",1).attr("transform","translate(.7,0)");
  // zero line
  g.append("line").attr("x1",x0).attr("x2",x0+PW).attr("y1",py(0)).attr("y2",py(0)).attr("stroke","#333").attr("stroke-width",1.1);
  plotRows(gc,panelE665[i],"e665",CY,fx,py,1.1);
  plotRows(gc,panelBcdms[i],"bcdms",MAG,fx,py,1.1);
  plotRows(gc,panelNmc[i],"nmc",GR,fx,py);
  plotRows(gc,panelH1[i],"h1",RED,fx,py);
  plotRows(gc,panelZeus[i],"zeus",BLUE,fx,py);
  g.append("rect").attr("x",x0).attr("y",y0).attr("width",PW).attr("height",PH).attr("fill","none").attr("stroke","#111").attr("stroke-width",1.3);
  g.append("g").attr("transform",`translate(${x0},0)`).call(d3.axisRight(py).tickValues(d3.range(0,2.21,.2)).tickSize(3.3)).call(clean);
  g.append("g").attr("transform",`translate(${x0},0)`).call(d3.axisRight(py).tickValues([0,1,2]).tickSize(6.5)).call(clean);
  g.append("g").attr("transform",`translate(0,${y0+PH})`).call(d3.axisTop(px).tickValues([3e-4,3e-3,3e-2,3e-1]).tickSize(4)).call(clean);
  g.append("g").attr("transform",`translate(0,${y0+PH})`).call(d3.axisTop(px).tickValues([1e-4,1e-3,1e-2,1e-1]).tickSize(6)).call(clean);
  const parts=i===0?[{t:"Q"},{t:"2",s:8.5,dy:-5},{t:"="+q+" GeV"},{t:"2",s:8.5,dy:-5}]:[{t:q+" GeV"},{t:"2",s:8.5,dy:-5}];
  rich(g,x0+(i===0?19:39),y0+18.5,parts,12);
  if(col===0)[0,1,2].forEach(v=>g.append("text").attr("x",570).attr("y",py(v)+5).attr("text-anchor","end").attr("font-size",14).text(v));
  if(row===4||(row===3&&col>=2)){
    const by=y0+PH+23.5;
    rich(g,px(1e-3)-12.4,by,[{t:"10"},{t:"-3",s:12,dy:-10,dx:4}],14);
    g.append("text").attr("x",x0+PW-1).attr("y",by).attr("text-anchor","middle").attr("font-size",14).text("1");
  }
});
rich(R,725,21,[{t:"HERA F"},{t:"2",s:12,dy:5}],17);
rich(R,540,357,[{t:"F"},{t:"em",s:14,dy:-7},{t:"2",s:14,dy:4,dx:-17.9}],21,{rotate:true});
R.append("text").attr("x",764).attr("y",702).attr("font-size",19).text("x");
fitBox(R,798.3,823.3,575,585);
R.append("text").attr("x",833.3).attr("y",583.3).attr("font-size",12).text("ZEUS NLO QCD fit");
R.append("line").attr("x1",799).attr("x2",823).attr("y1",599).attr("y2",599).attr("stroke",RED).attr("stroke-width",1);
R.append("text").attr("x",833.3).attr("y",603.3).attr("font-size",12).text("H1 PDF 2000 fit");
legendRightA.forEach((s,i)=>{
  const y=[623,639.3][i];marker(R,["h1","zeus"][i],798.7,y,.7);
  R.append("text").attr("x",809).attr("y",y+4).attr("font-size",12).text(s);
});
legendRightB.forEach((s,i)=>{
  const y=[623,639.3,655.7][i];marker(R,["bcdms","e665","nmc"][i],906.7,y,.9);
  R.append("text").attr("x",916.7).attr("y",y+4).attr("font-size",12).text(s);
});
</script></body></html>
